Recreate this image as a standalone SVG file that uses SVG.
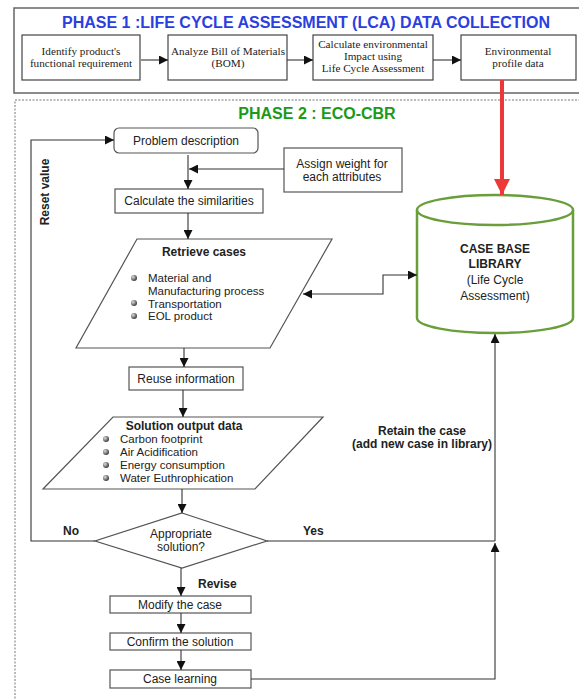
<svg xmlns="http://www.w3.org/2000/svg" width="579" height="700" viewBox="0 0 579 700">
<defs>
<style>
.ser{font-family:"Liberation Serif","Times New Roman",serif;font-size:11.2px;fill:#222;text-anchor:middle}
.t{font-family:"Liberation Sans",Arial,sans-serif;font-size:12px;fill:#222}
.li{font-size:11.5px}
.c{text-anchor:middle}
.b{font-weight:bold}
.box{fill:#fff;stroke:#555;stroke-width:1.2}
.p1box{fill:#fff;stroke:#444;stroke-width:1.2}
.ln{fill:none;stroke:#333;stroke-width:1.1}
</style>
<marker id="ah" viewBox="0 0 10 10" refX="10" refY="5" markerUnits="userSpaceOnUse" markerWidth="12" markerHeight="9" orient="auto-start-reverse">
<path d="M0,0 L10,5 L0,10 z" fill="#111"/>
</marker>
<marker id="ahr" viewBox="0 0 10 10" refX="10" refY="5" markerUnits="userSpaceOnUse" markerWidth="21" markerHeight="16" orient="auto">
<path d="M0,0 L10,5 L0,10 z" fill="#ee3838"/>
</marker>
<radialGradient id="bul" cx="0.35" cy="0.35" r="0.7">
<stop offset="0" stop-color="#ddd"/>
<stop offset="1" stop-color="#333"/>
</radialGradient>
</defs>
<rect width="579" height="700" fill="#fff"/>

<g id="phase1">
<rect x="14" y="8" width="580" height="85" fill="#fff" stroke="#666" stroke-width="1.5"/>
<text x="306" y="28" font-family="Liberation Sans,Arial,sans-serif" font-size="16" font-weight="bold" fill="#2b3fe0" text-anchor="middle">PHASE 1 :LIFE CYCLE ASSESSMENT (LCA) DATA COLLECTION</text>
</g>
<g id="p1-identify">
<rect class="p1box" x="22" y="35" width="118" height="45"/>
<text class="ser" x="81" y="55">Identify product's</text>
<text class="ser" x="81" y="67">functional requirement</text>
</g>
<g id="p1-bom">
<rect class="p1box" x="168" y="35" width="119" height="45"/>
<text class="ser" x="228" y="55">Analyze Bill of Materials</text>
<text class="ser" x="228" y="67">(BOM)</text>
</g>
<g id="p1-calc">
<rect class="p1box" x="313" y="35" width="120" height="45"/>
<text class="ser" x="373" y="48">Calculate environmental</text>
<text class="ser" x="373" y="60">Impact using</text>
<text class="ser" x="373" y="72">Life Cycle Assessment</text>
</g>
<g id="p1-env">
<rect class="p1box" x="461" y="35" width="115" height="45"/>
<text class="ser" x="518" y="55">Environmental</text>
<text class="ser" x="518" y="67">profile data</text>
</g>

<g id="phase2">
<rect x="15" y="100" width="580" height="610" fill="none" stroke="#777" stroke-width="1" stroke-dasharray="2,1.5"/>
<text x="317" y="119" font-family="Liberation Sans,Arial,sans-serif" font-size="16" font-weight="bold" fill="#1a9a1a" text-anchor="middle">PHASE 2 : ECO-CBR</text>
</g>

<g id="problem">
<rect class="box" x="114" y="128" width="144" height="25" rx="5"/>
<text class="t c" x="186" y="145">Problem description</text>
</g>
<g id="assign">
<rect class="box" x="284" y="148" width="118" height="44"/>
<text class="t c" x="342" y="168">Assign weight for</text>
<text class="t c" x="342" y="181">each attributes</text>
</g>
<g id="similarities">
<rect class="box" x="115" y="189" width="148" height="24"/>
<text class="t c" x="189" y="205">Calculate the similarities</text>
</g>
<g id="retrieve">
<polygon class="box" points="137,239 332,239 270,348 76,348"/>
<text class="t c b" x="204" y="256">Retrieve cases</text>
<circle cx="134" cy="278" r="3" fill="url(#bul)"/>
<circle cx="134" cy="303" r="3" fill="url(#bul)"/>
<circle cx="134" cy="316" r="3" fill="url(#bul)"/>
<text class="t li" x="148" y="282">Material and</text>
<text class="t li" x="148" y="295">Manufacturing process</text>
<text class="t li" x="148" y="307.5">Transportation</text>
<text class="t li" x="148" y="320">EOL product</text>
</g>
<g id="library">
<path d="M417,210 V318 A78,15 0 0 0 573,318 V210" fill="#fff" stroke="#6a9e3a" stroke-width="2.5"/>
<ellipse cx="495" cy="210" rx="78" ry="15" fill="#fff" stroke="#6a9e3a" stroke-width="2.5"/>
<text class="t c b" x="495" y="253" font-size="14">CASE BASE</text>
<text class="t c b" x="495" y="268" font-size="14">LIBRARY</text>
<text class="t c" x="495" y="284" font-size="14">(Life Cycle</text>
<text class="t c" x="495" y="300" font-size="14">Assessment)</text>
</g>
<g id="reuse">
<rect class="box" x="129" y="367" width="114" height="23"/>
<text class="t c" x="186" y="383">Reuse information</text>
</g>
<g id="solution">
<polygon class="box" points="113,417 323,417 255,489 43,489"/>
<text class="t c b" x="184" y="430">Solution output data</text>
<circle cx="106" cy="439" r="3" fill="url(#bul)"/>
<circle cx="106" cy="452" r="3" fill="url(#bul)"/>
<circle cx="106" cy="465" r="3" fill="url(#bul)"/>
<circle cx="106" cy="478" r="3" fill="url(#bul)"/>
<text class="t li" x="120" y="443">Carbon footprint</text>
<text class="t li" x="120" y="456">Air Acidification</text>
<text class="t li" x="120" y="469">Energy consumption</text>
<text class="t li" x="120" y="482">Water Euthrophication</text>
</g>
<g id="decision">
<polygon class="box" points="182,513 267,541 182,568 95,541"/>
<text class="t c" x="181" y="538">Appropriate</text>
<text class="t c" x="181" y="551">solution?</text>
</g>
<g id="modify">
<rect class="box" x="110" y="596" width="141" height="17"/>
<text class="t c" x="180" y="609">Modify the case</text>
</g>
<g id="confirm">
<rect class="box" x="110" y="633" width="141" height="17"/>
<text class="t c" x="180" y="646">Confirm the solution</text>
</g>
<g id="learning">
<rect class="box" x="110" y="670" width="141" height="18"/>
<text class="t c" x="180" y="683">Case learning</text>
</g>

<g id="labels">
<text class="t b" x="0" y="0" font-size="11.5" transform="translate(49,192) rotate(-90)" text-anchor="middle">Reset value</text>
<text class="t b" x="63" y="535" font-size="14">No</text>
<text class="t b" x="303" y="535" font-size="14">Yes</text>
<text class="t b" x="198" y="588" font-size="14">Revise</text>
<text class="t c b" x="422" y="435">Retain the case</text>
<text class="t c b" x="422" y="448">(add new case in library)</text>
</g>

<g id="connectors">
<line class="ln" x1="141" y1="60" x2="168" y2="60" marker-end="url(#ah)"/>
<line class="ln" x1="287" y1="60" x2="313" y2="60" marker-end="url(#ah)"/>
<line class="ln" x1="433" y1="60" x2="461" y2="60" marker-end="url(#ah)"/>
<line x1="502" y1="80" x2="502" y2="195" stroke="#ee3838" stroke-width="4" marker-end="url(#ahr)"/>
<line class="ln" x1="188" y1="155" x2="188" y2="189" marker-end="url(#ah)"/>
<line class="ln" x1="284" y1="169" x2="189" y2="169" marker-end="url(#ah)"/>
<line class="ln" x1="188" y1="213" x2="188" y2="239" marker-end="url(#ah)"/>
<path class="ln" d="M303,294 H383 V275 H417" marker-start="url(#ah)" marker-end="url(#ah)"/>
<line class="ln" x1="184" y1="348" x2="184" y2="367" marker-end="url(#ah)"/>
<line class="ln" x1="183" y1="390" x2="183" y2="417" marker-end="url(#ah)"/>
<line class="ln" x1="182" y1="489" x2="182" y2="513" marker-end="url(#ah)"/>
<path class="ln" d="M95,541 H31 V140 H114" marker-end="url(#ah)" stroke="#555"/>
<line class="ln" x1="267" y1="541" x2="495" y2="541" stroke="#555"/>
<path class="ln" d="M251,679 H495 V543" marker-end="url(#ah)" stroke="#555"/>
<line class="ln" x1="495" y1="541" x2="495" y2="334" marker-end="url(#ah)" stroke="#555"/>
<line class="ln" x1="181" y1="568" x2="181" y2="596" marker-end="url(#ah)"/>
<line class="ln" x1="181" y1="613" x2="181" y2="633" marker-end="url(#ah)"/>
<line class="ln" x1="181" y1="650" x2="181" y2="670" marker-end="url(#ah)"/>
</g>
</svg>
